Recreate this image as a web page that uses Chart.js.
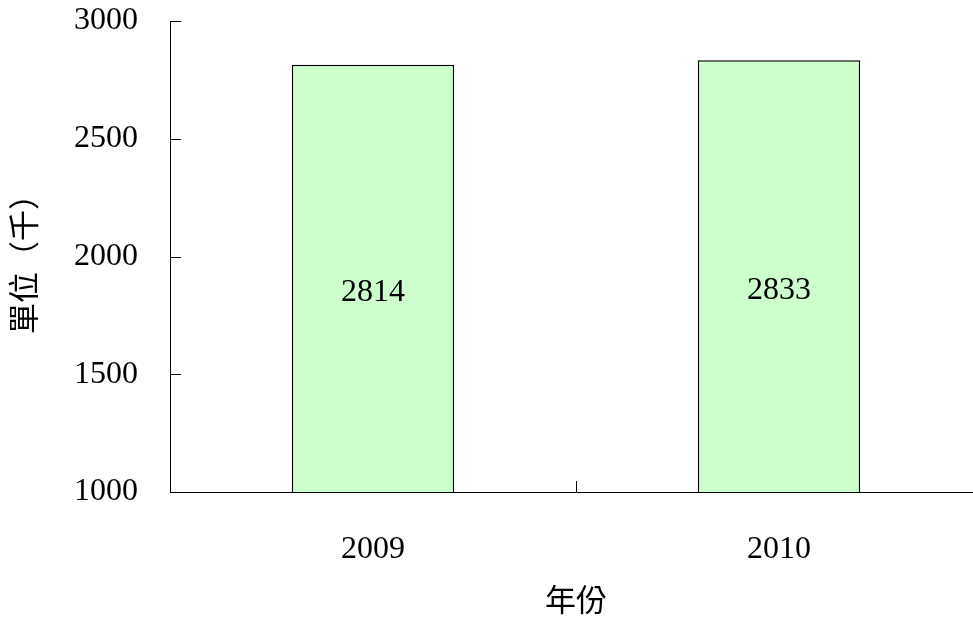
<!DOCTYPE html>
<html>
<head>
<meta charset="utf-8">
<script src="https://cdn.jsdelivr.net/npm/chart.js@4"></script>
<style>
  html, body { margin: 0; padding: 0; background: #fff; overflow: hidden; }
  #wrap { width: 982px; height: 621px; }
</style>
</head>
<body>
<div id="wrap"><canvas id="chart" width="982" height="621"></canvas></div>
<script>
// ─── DATA ───────────────────────────────────────────
const YEARS = ['2009', '2010'];
const VALUES = [2814, 2833];
const Y_MIN = 1000;
const Y_MAX = 3000;
const Y_STEP = 500;
const Y_TITLE = '單位（千）';
const X_TITLE = '年份';

const FONT = "'Liberation Serif', 'Noto Sans CJK TC', serif";

// inward y ticks + boundary ticks on the x axis
const tickMarks = {
  id: 'tickMarks',
  afterDraw(chart) {
    const { ctx, chartArea, scales } = chart;
    ctx.save();
    ctx.strokeStyle = '#000';
    ctx.lineWidth = 1;
    ctx.beginPath();
    scales.y.ticks.forEach(t => {
      const y = Math.round(scales.y.getPixelForValue(t.value)) + 0.5;
      ctx.moveTo(chartArea.left, y);
      ctx.lineTo(chartArea.left + 11, y);
    });
    for (let i = 1; i < YEARS.length; i++) {
      const x = Math.round((scales.x.getPixelForTick(i - 1) + scales.x.getPixelForTick(i)) / 2) + 0.5;
      ctx.moveTo(x, chartArea.bottom - 11);
      ctx.lineTo(x, chartArea.bottom);
    }
    ctx.stroke();
    ctx.restore();
  }
};

// value labels inside bars
const barLabels = {
  id: 'barLabels',
  afterDatasetsDraw(chart) {
    const { ctx, chartArea } = chart;
    const meta = chart.getDatasetMeta(0);
    ctx.save();
    ctx.fillStyle = '#000';
    ctx.font = '32px ' + FONT;
    ctx.textAlign = 'center';
    ctx.textBaseline = 'middle';
    meta.data.forEach((bar, i) => {
      const base = Math.min(bar.base, chartArea.bottom);
      ctx.fillText(String(VALUES[i]), bar.x, (bar.y + base) / 2 + 14);
    });
    ctx.restore();
  }
};

new Chart(document.getElementById('chart'), {
  type: 'bar',
  data: {
    labels: YEARS,
    datasets: [{
      data: VALUES,
      backgroundColor: '#ccffcc',
      borderColor: '#000',
      borderWidth: 1.5,
      barPercentage: 0.4,
      categoryPercentage: 1.0,
    }]
  },
  options: {
    responsive: false,
    animation: false,
    layout: { padding: { top: 21, left: 0, right: 0, bottom: 0 } },
    plugins: {
      legend: { display: false },
      tooltip: { enabled: false },
    },
    scales: {
      x: {
        grid: { display: false, drawTicks: false },
        border: { display: true, color: '#000', width: 1 },
        ticks: { color: '#000', font: { family: FONT, size: 32 }, padding: 38 },
        title: {
          display: true, text: X_TITLE, color: '#000',
          font: { family: FONT, size: 31 }, padding: { top: 20, bottom: 0 }
        },
        afterFit(scale) { scale.height = 129; }
      },
      y: {
        min: Y_MIN,
        max: Y_MAX,
        grid: { display: false, drawTicks: false },
        border: { display: true, color: '#000', width: 1 },
        ticks: {
          stepSize: Y_STEP, color: '#000', font: { family: FONT, size: 32 }, padding: 32,
          callback: v => String(v)
        },
        title: {
          display: true, text: Y_TITLE, color: '#000',
          font: { family: FONT, size: 31 }, padding: { top: 8, bottom: 0 }
        },
        afterFit(scale) {
          scale.width = 170;
          scale.paddingTop = 0;
          scale.paddingBottom = 0;
        }
      }
    }
  },
  plugins: [tickMarks, barLabels]
});
</script>
</body>
</html>
